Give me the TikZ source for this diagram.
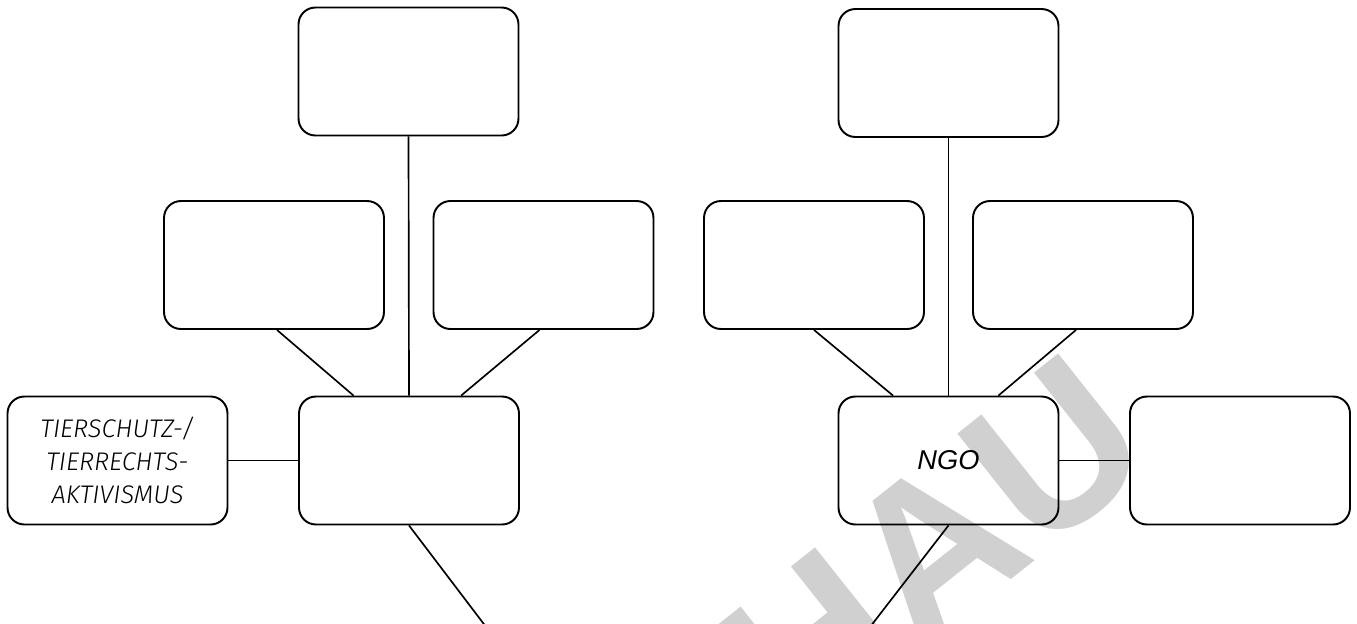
\documentclass[tikz,border=0pt]{standalone}
\usepackage{fontspec}
\setmainfont{Liberation Sans}
\newfontfamily\lightsans{Fira Sans}[UprightFont={* Light}, ItalicFont={* Light Italic}]
\usetikzlibrary{calc}
\definecolor{wmgray}{RGB}{208,208,208}
\tikzset{
  box/.style={draw, line width=1.1pt, rounded corners=9.6pt,
    minimum width=4.40cm, minimum height=2.56cm, inner sep=0pt, align=center},
  link/.style={line width=0.95pt},
  boxtext/.style={font=\lightsans\itshape\fontsize{14.5}{18.7}\selectfont},
  ngotext/.style={font=\itshape\fontsize{15.5}{18}\selectfont},
  watermark/.style={text=wmgray, font=\bfseries\fontsize{122}{122}\selectfont,
    rotate=38.5, anchor=base east, inner sep=0pt}
}
\begin{document}
\begin{tikzpicture}[x=0.02cm,y=-0.02cm]
\useasboundingbox (0,0) rectangle (1357,623);
\clip (0,0) rectangle (1357,623);

% diagonal watermark behind the diagram
\node[watermark] (wm) at (1161,461) {HAU};

% left cluster
\node[box] (LT)  at (408.5,71.5) {};
\node[box] (LML) at (274,265) {};
\node[box] (LMR) at (543.5,265) {};
\node[box] (LC)  at (409,460.5) {};
\node[box, boxtext] (LX) at (117.5,460.5) {TIERSCHUTZ-/\\TIERRECHTS-\\AKTIVISMUS};
\coordinate (LEnd) at (496,640);

\draw[link] (LT.south) -- (LC.north);
\draw[link] ($(LML.south)+(3,0)$) -- ($(LC.north)!0.5!(LC.north west)$);
\draw[link] ($(LMR.south)+(-4,0)$) -- ($(LC.north)!0.47!(LC.north east)$);
\draw[link] (LX.east) -- (LC.west);
\draw[link] (LC.south) -- (LEnd);

% right cluster
\node[box] (RT)  at (948.5,73) {};
\node[box] (RML) at (814,265) {};
\node[box] (RMR) at (1083,265) {};
\node[box, ngotext] (NGO) at (948.5,460.5) {NGO};
\node[box] (RR)  at (1240,460.5) {};
\coordinate (REnd) at (860,640);

\draw[link] (RT.south) -- (NGO.north);
\draw[link] (RML.south) -- ($(NGO.north)!0.5!(NGO.north west)$);
\draw[link] ($(RMR.south)+(-7,0)$) -- ($(NGO.north)!0.45!(NGO.north east)$);
\draw[link] (NGO.east) -- (RR.west);
\draw[link] (NGO.south) -- (REnd);
\end{tikzpicture}
\end{document}
